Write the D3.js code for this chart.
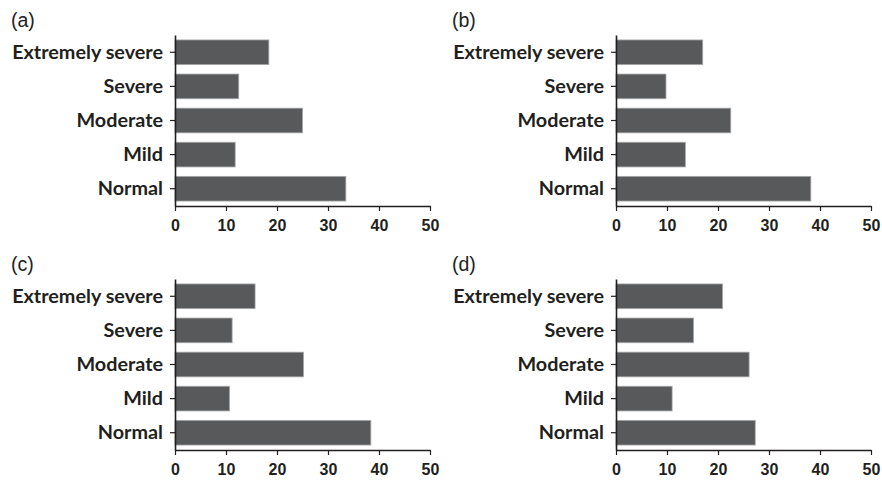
<!DOCTYPE html>
<html><head><meta charset="utf-8">
<script src="https://cdn.jsdelivr.net/npm/d3@7"></script>
<style>
body{margin:0;background:#fff;}
svg{display:block;}
</style></head>
<body>
<svg id="chart" width="882" height="481"></svg>
<script>
const categories = ["Extremely severe","Severe","Moderate","Mild","Normal"];
const panelLabels = ["(a)","(b)","(c)","(d)"];
const valuesA = [18.4, 12.5, 25.0, 11.8, 33.5];
const valuesB = [17.0, 9.8, 22.5, 13.6, 38.2];
const valuesC = [15.7, 11.2, 25.2, 10.7, 38.4];
const valuesD = [20.9, 15.2, 26.1, 11.0, 27.3];
const xTicks = [0,10,20,30,40,50];

const svg = d3.select("#chart");
const panels = [
  {label: panelLabels[0], values: valuesA, ox: 0,   oy: 0},
  {label: panelLabels[1], values: valuesB, ox: 441, oy: 0},
  {label: panelLabels[2], values: valuesC, ox: 0,   oy: 244},
  {label: panelLabels[3], values: valuesD, ox: 441, oy: 244}
];

const catFont = "Lato, 'Open Sans', sans-serif";
const probe = svg.append("text").style("font-family",catFont).style("font-weight","bold")
  .style("font-size","18px").text(categories[0]);
const w18 = probe.node().getComputedTextLength();
probe.remove();
const catSize = 18 * 151 / w18;

panels.forEach(p => {
  const g = svg.append("g").attr("transform", `translate(${p.ox},${p.oy})`);
  const x = d3.scaleLinear().domain([0,50]).range([175, 430]);
  const y = d3.scaleBand().domain(categories).range([35, 206]).paddingInner(0.276).paddingOuter(0.145);

  g.append("text").attr("x", 11).attr("y", 27)
    .style("font-family","'Liberation Sans', Arial, sans-serif")
    .style("font-size", "19.5px").attr("fill","#222").text(p.label);

  g.selectAll("rect.bar").data(categories).enter().append("rect")
    .attr("class","bar")
    .attr("x", x(0))
    .attr("y", d => y(d))
    .attr("width", (d,i) => x(p.values[i]) - x(0))
    .attr("height", y.bandwidth())
    .attr("fill","#58595b")
    .attr("stroke","#a7a8aa").attr("stroke-width",0.8);

  const xAxis = g.append("g").attr("transform","translate(0,206)")
    .call(d3.axisBottom(x).tickValues(xTicks).tickSize(5).tickSizeOuter(0).tickPadding(8.5));
  xAxis.selectAll("text").style("font-family","'Liberation Sans', Arial, sans-serif")
    .style("font-weight","bold").style("font-size","16px").attr("fill","#231f20");

  const yAxis = g.append("g").attr("transform","translate(175,0)")
    .call(d3.axisLeft(y).tickSize(5).tickSizeOuter(0).tickPadding(7));
  yAxis.selectAll("text").style("font-family",catFont)
    .style("font-weight","bold").style("font-size",catSize + "px").attr("fill","#231f20");

  [xAxis, yAxis].forEach(a => {
    a.select(".domain").attr("stroke","#231f20").attr("stroke-width",1.6);
    a.selectAll(".tick line").attr("stroke","#231f20").attr("stroke-width",1.2);
  });
});
</script>
</body></html>
